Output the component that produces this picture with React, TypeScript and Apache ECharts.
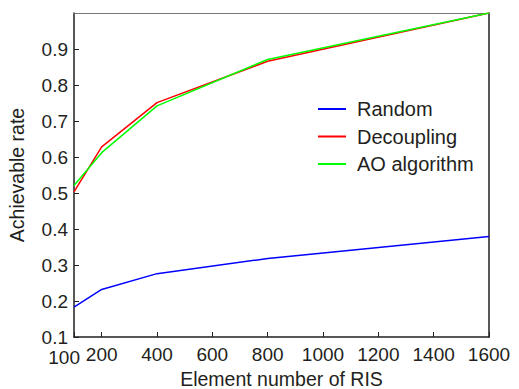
import React, { useEffect, useRef } from "react";
import * as echarts from "echarts";

const xValues = [100, 200, 400, 800, 1600];
const xTicks = [100, 200, 400, 600, 800, 1000, 1200, 1400, 1600];
const xLabels = [200, 400, 600, 800, 1000, 1200, 1400, 1600];
const xMinLabel = "100";
const randomRate = [0.183, 0.232, 0.276, 0.318, 0.379];
const decouplingRate = [0.503, 0.628, 0.751, 0.866, 1.0];
const aoRate = [0.521, 0.612, 0.742, 0.871, 1.0];
const seriesNames = ["Random", "Decoupling", "AO algorithm"];
const seriesColors = ["#0000ff", "#ff0000", "#00ff00"];

const textColor = "#231f20";
const font = "'Liberation Sans', Arial, sans-serif";

export default function App() {
  const ref = useRef<HTMLDivElement>(null);
  useEffect(() => {
    if (!ref.current) return;
    const chart = echarts.init(ref.current, undefined, { renderer: "svg" });
    const data = [randomRate, decouplingRate, aoRate];
    chart.setOption({
      animation: false,
      backgroundColor: "#ffffff",
      textStyle: { fontFamily: font, color: textColor },
      grid: {
        left: 74,
        right: 30,
        top: 13,
        bottom: 52,
        containLabel: false,
        outerBoundsMode: "none",
      },
      graphic: [
        {
          type: "text",
          x: 80,
          y: 347.5,
          style: {
            text: xMinLabel,
            align: "right",
            verticalAlign: "top",
            fontSize: 19,
            fontFamily: font,
            fill: textColor,
          },
        },
      ],
      legend: {
        orient: "vertical",
        left: 313,
        top: 94,
        icon: "rect",
        itemWidth: 28,
        itemHeight: 2,
        itemGap: 7.5,
        textStyle: {
          fontSize: 20,
          color: textColor,
          fontFamily: font,
          lineHeight: 20,
          padding: [0, 0, 0, 6],
        },
        data: seriesNames,
      },
      xAxis: [
        {
          type: "value",
          min: 100,
          max: 1600,
          name: "Element number of RIS",
          nameLocation: "middle",
          nameGap: 32,
          nameTextStyle: { fontSize: 19.5, color: textColor, fontFamily: font },
          axisLine: { show: true, lineStyle: { color: "#231f20", width: 1.5 } },
          axisTick: {
            show: true,
            inside: true,
            length: 5,
            customValues: xTicks,
            lineStyle: { color: "#231f20", width: 1 },
          },
          axisLabel: {
            customValues: xLabels,
            interval: 0,
            showMaxLabel: true,
            fontSize: 19,
            color: textColor,
            fontFamily: font,
            margin: 8,
            formatter: (v: number) => String(v),
          },
          splitLine: { show: false },
        },
        {
          type: "value",
          position: "top",
          min: 100,
          max: 1600,
          axisLine: { show: true, lineStyle: { color: "#777777", width: 1.2 } },
          axisTick: { show: false },
          axisLabel: { show: false },
          splitLine: { show: false },
        },
      ],
      yAxis: [
        {
          type: "value",
          min: 0.1,
          max: 1.0,
          interval: 0.1,
          name: "Achievable rate",
          nameLocation: "middle",
          nameGap: 47,
          nameTextStyle: { fontSize: 19.5, color: textColor, fontFamily: font },
          axisLine: { show: true, lineStyle: { color: "#231f20", width: 1.5 } },
          axisTick: { show: true, inside: true, length: 5, lineStyle: { color: "#231f20", width: 1 } },
          axisLabel: {
            fontSize: 19,
            color: textColor,
            fontFamily: font,
            margin: 6,
            showMinLabel: true,
            showMaxLabel: false,
            formatter: (v: number) => (Math.abs(v - 1) < 1e-6 ? "" : v.toFixed(1)),
          },
          splitLine: { show: false },
        },
        {
          type: "value",
          position: "right",
          min: 0.1,
          max: 1.0,
          axisLine: { show: true, lineStyle: { color: "#231f20", width: 1.5 } },
          axisTick: { show: false },
          axisLabel: { show: false },
          splitLine: { show: false },
        },
      ],
      series: seriesNames.map((name, i) => ({
        name,
        type: "line",
        symbol: "none",
        color: seriesColors[i],
        lineStyle: { color: seriesColors[i], width: 1.5 },
        data: xValues.map((x, j) => [x, data[i][j]]),
        z: 3 + (i === 2 ? 1 : 0),
      })),
    });
    return () => chart.dispose();
  }, []);
  return (
    <div
      ref={ref}
      style={{ position: "absolute", left: 0, top: 0, width: 519, height: 389 }}
    />
  );
}
